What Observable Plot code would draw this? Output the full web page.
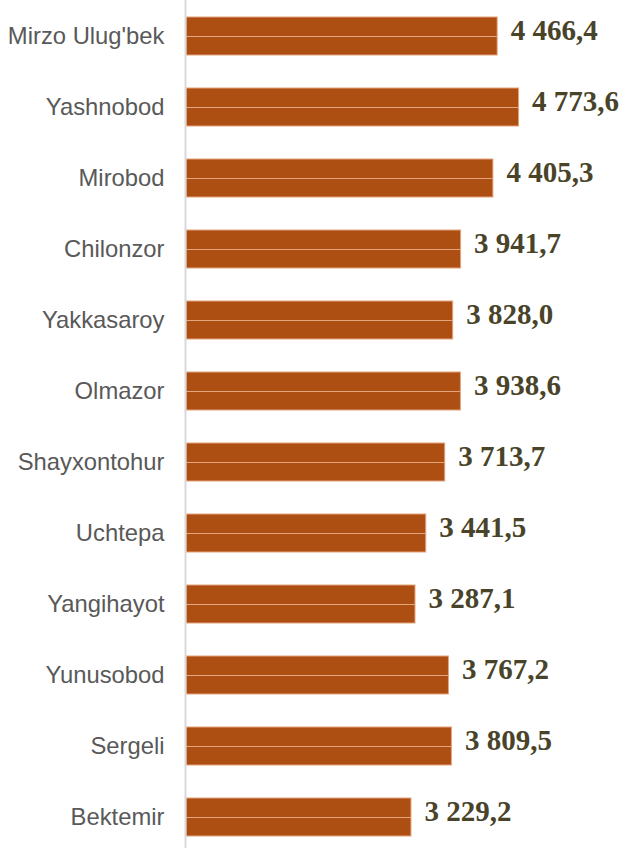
<!DOCTYPE html>
<html>
<head>
<meta charset="utf-8">
<script src="https://cdn.jsdelivr.net/npm/d3@7"></script>
<script src="https://cdn.jsdelivr.net/npm/@observablehq/plot@0.6"></script>
<style>
  html, body { margin: 0; padding: 0; background: #fff; }
  #chart { width: 626px; height: 848px; }
</style>
</head>
<body>
<div id="chart"></div>
<script>
const districts = ["Mirzo Ulug'bek", "Yashnobod", "Mirobod", "Chilonzor", "Yakkasaroy", "Olmazor", "Shayxontohur", "Uchtepa", "Yangihayot", "Yunusobod", "Sergeli", "Bektemir"];
const values = [4466.4, 4773.6, 4405.3, 3941.7, 3828.0, 3938.6, 3713.7, 3441.5, 3287.1, 3767.2, 3809.5, 3229.2];
const labels = ["4 466,4", "4 773,6", "4 405,3", "3 941,7", "3 828,0", "3 938,6", "3 713,7", "3 441,5", "3 287,1", "3 767,2", "3 809,5", "3 229,2"];

const data = districts.map((d, i) => ({district: d, value: values[i], label: labels[i]}));

const chart = Plot.plot({
  width: 626,
  height: 848,
  marginLeft: 186,
  marginRight: 22,
  marginTop: 0,
  marginBottom: 0,
  style: {background: "#fff", overflow: "visible"},
  x: {domain: [0, 6000], axis: null},
  y: {domain: districts, range: [-1.6, 853.6], paddingInner: 0.47, paddingOuter: 0.235, label: null},
  marks: [
    Plot.barX(data, {x: "value", y: "district", fill: "#AD4E12", stroke: "#E3A47C", strokeWidth: 1}),
    Plot.ruleY(data, {y: "district", x1: 0, x2: "value", stroke: "#E3A47C", strokeWidth: 1}),
    Plot.ruleX([0], {stroke: "#d9d9d9", strokeWidth: 2, dx: -1}),
    Plot.axisY({tickSize: 0, tickPadding: 22, fontSize: 23.8, fill: "#595959", fontFamily: "Liberation Sans, Arial, sans-serif", label: null}),
    Plot.text(data, {x: "value", y: "district", text: "label", textAnchor: "start", dx: 13, dy: -6, fontSize: 29, fontWeight: "bold", fill: "#494429", fontFamily: "Liberation Serif, Times New Roman, serif"})
  ]
});
document.getElementById("chart").appendChild(chart);
</script>
</body>
</html>
